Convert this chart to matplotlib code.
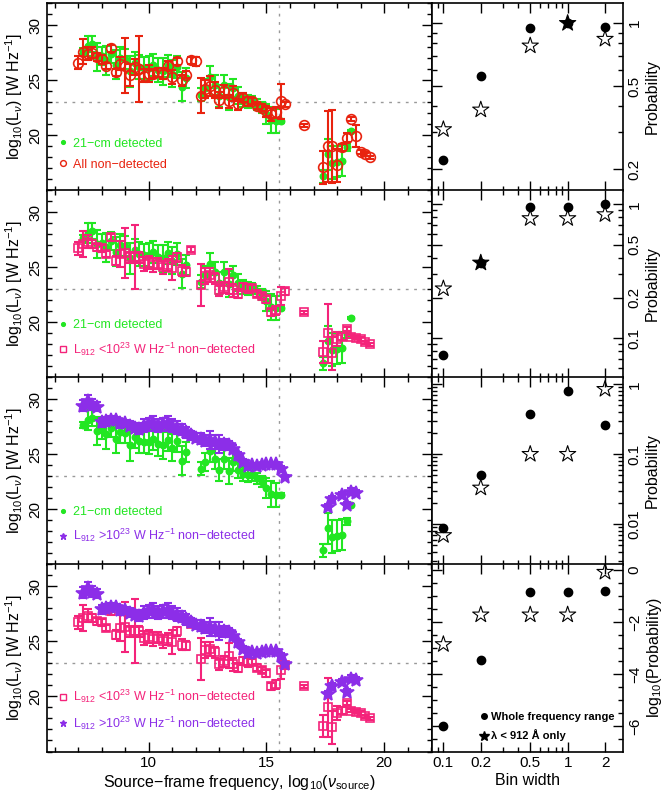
import numpy as np
import matplotlib
matplotlib.use('Agg')
import matplotlib.pyplot as plt
from matplotlib.ticker import MultipleLocator, FixedLocator, FixedFormatter, LogLocator, NullFormatter
from matplotlib.lines import Line2D

plt.rcParams['font.family'] = ['Liberation Sans', 'DejaVu Sans']
plt.rcParams['mathtext.fontset'] = 'custom'
plt.rcParams['mathtext.rm'] = 'Liberation Sans'
plt.rcParams['mathtext.it'] = 'Liberation Sans:italic'
plt.rcParams['mathtext.bf'] = 'Liberation Sans:bold'

# ---- 21-cm detected (green) ----
det_x = [7.2, 7.4, 7.6, 7.8, 8.0, 8.2, 8.4, 8.6, 8.8, 9.0, 9.2, 9.4, 9.6, 9.8, 10.0, 10.2,
         10.4, 10.6, 10.8, 11.0, 11.2, 11.4, 11.6,
         12.2, 12.4, 12.6, 12.8, 13.0, 13.2, 13.4, 13.6, 13.8, 14.0, 14.2, 14.4, 14.6, 14.8,
         15.0, 15.2, 15.4, 15.6,
         17.4, 17.6, 17.8, 18.0, 18.2, 18.4, 18.6]
det_y = [27.65, 28.1, 28.3, 27.1, 27.2, 26.8, 27.4, 26.4, 27.0, 26.9, 25.8, 26.6, 26.2, 26.1,
         26.1, 26.4, 25.9, 25.8, 26.3, 25.6, 26.2, 24.4, 25.2,
         23.7, 24.3, 25.3, 24.6, 23.6, 24.6, 23.5, 24.3, 23.6, 23.2, 23.1, 23.1, 22.8, 22.5,
         21.9, 21.4, 21.3, 21.3,
         16.3, 18.3, 17.5, 17.6, 17.7, 18.9, 20.4]
det_e = [0.3, 0.9, 0.7, 1.3, 0.8, 1.3, 0.8, 1.3, 1.0, 0.9, 1.4, 1.0, 1.1, 1.0, 1.1, 1.0,
         1.1, 1.2, 1.0, 1.2, 1.0, 1.3, 0.9,
         0.6, 0.8, 1.0, 0.9, 1.0, 0.9, 1.2, 0.8, 0.8, 0.6, 0.6, 0.5, 0.5, 0.5,
         0.9, 1.2, 1.1, 0.2,
         0.6, 1.4, 1.5, 1.4, 1.4, 0.3, 0.1]

# ---- all non-detected (red) ----
all_x = [7.0, 7.2, 7.4, 7.6, 7.8, 8.0, 8.2, 8.4, 8.6, 8.8, 9.0, 9.2, 9.4, 9.6, 9.8, 10.0,
         10.2, 10.4, 10.6, 10.8, 11.0, 11.2, 11.4, 11.6, 11.8, 12.0,
         12.2, 12.4, 12.6, 12.8, 13.0, 13.2, 13.4, 13.6, 13.8, 14.0, 14.2, 14.4, 14.6, 14.8,
         15.0, 15.2, 15.4, 15.6, 15.8,
         16.6,
         17.4, 17.6, 17.8, 18.0, 18.2, 18.4, 18.6, 18.8, 19.0, 19.2, 19.4]
all_y = [26.6, 27.6, 27.4, 27.5, 27.1, 26.9, 26.3, 27.9, 25.7, 26.5, 26.3, 25.5, 26.2, 26.0,
         25.4, 25.6, 25.6, 25.7, 25.6, 26.3, 25.3, 26.7, 25.0, 25.5, 26.8, 26.7,
         23.6, 24.2, 24.5, 24.1, 23.2, 24.0, 23.1, 23.8, 22.8, 23.4, 23.1, 23.1, 22.7, 22.5,
         22.2, 21.9, 22.1, 23.1, 22.8,
         20.9,
         17.1, 19.0, 19.0, 17.3, 18.9, 19.8, 21.5, 19.9, 18.5, 18.3, 18.0]
all_e = [0.6, 1.1, 0.6, 0.5, 0.4, 0.4, 0.3, 0.3, 0.3, 0.6, 2.5, 1.0, 0.7, 3.0, 0.6, 0.8,
         0.4, 0.4, 0.5, 0.4, 0.6, 0.3, 0.5, 0.3, 0.3, 0.4,
         1.6, 0.8, 0.9, 0.7, 0.7, 0.6, 0.6, 0.7, 0.5, 0.4, 0.4, 0.3, 0.3, 0.3,
         0.5, 0.6, 0.5, 1.6, 0.2,
         0.15,
         1.5, 3.2, 3.3, 1.5, 0.3, 0.4, 0.2, 1.0, 0.2, 0.15, 0.15]

# ---- L912 < 1e23 non-detected (pink) ----
low_x = [7.0, 7.2, 7.4, 7.6, 7.8, 8.0, 8.2, 8.4, 8.6, 8.8, 9.0, 9.2, 9.4, 9.6, 9.8, 10.0,
         10.2, 10.4, 10.6, 10.8, 11.0, 11.2, 11.4, 11.6, 11.8,
         12.2, 12.4, 12.6, 12.8, 13.0, 13.2, 13.4, 13.6, 13.8, 14.0, 14.2, 14.4, 14.6, 14.8,
         15.0, 15.2, 15.4, 15.6, 15.8,
         16.6,
         17.4, 17.6, 17.8, 18.0, 18.2, 18.4, 18.6, 18.8, 19.0, 19.2, 19.4]
low_y = [26.7, 27.1, 27.3, 27.1, 26.8, 26.7, 26.2, 27.7, 25.6, 26.2, 26.3, 25.9, 25.9, 25.9,
         25.3, 25.4, 25.2, 25.3, 25.0, 25.2, 24.9, 25.9, 24.7, 24.6, 26.6,
         23.4, 24.2, 24.3, 24.0, 22.9, 23.2, 23.7, 22.9, 22.6, 23.2, 23.1, 23.1, 22.6, 22.4,
         22.1, 20.9, 21.1, 22.4, 22.8,
         20.9,
         17.3, 19.0, 17.2, 18.5, 18.7, 19.4, 18.7, 18.6, 18.5, 18.2, 18.0]
low_e = [0.6, 1.2, 0.6, 0.4, 0.3, 0.3, 0.3, 0.3, 0.4, 1.2, 2.3, 0.5, 2.9, 0.5, 0.6, 0.6,
         0.6, 0.5, 0.6, 0.5, 1.1, 0.4, 0.5, 0.4, 0.2,
         1.9, 0.7, 0.6, 0.5, 0.5, 0.5, 1.1, 0.6, 0.4, 0.4, 0.4, 0.3, 0.3, 0.3,
         0.3, 0.3, 0.4, 0.8, 0.3,
         0.15,
         1.0, 2.7, 1.5, 0.6, 0.3, 0.2, 0.15, 0.15, 0.15, 0.15, 0.15]

# ---- L912 > 1e23 non-detected (purple) ----
high_x = [7.2, 7.4, 7.6, 7.8,
          8.0, 8.2, 8.4, 8.6, 8.8, 9.0, 9.2, 9.4, 9.6, 9.8, 10.0, 10.2, 10.4, 10.6, 10.8, 11.0,
          11.2, 11.4, 11.6, 11.8, 12.0, 12.2, 12.4, 12.6, 12.8, 13.0, 13.2, 13.4, 13.6, 13.8,
          14.0, 14.2, 14.4, 14.6, 14.8, 15.0, 15.2, 15.4, 15.6, 15.8,
          17.6, 17.8, 18.2, 18.4, 18.6, 18.8]
high_y = [29.4, 29.8, 29.5, 29.3,
          27.9, 28.0, 28.1, 28.1, 27.8, 27.8, 27.6, 27.4, 27.3, 27.6, 27.7, 27.8, 27.6, 27.7,
          27.8, 27.6, 27.4, 27.2, 27.0, 26.7, 26.5, 26.4, 26.2, 26.3, 26.1, 25.9, 25.9, 25.8,
          25.5, 24.9, 24.3, 23.9, 24.0, 23.9, 24.0, 24.1, 24.1, 24.1, 23.7, 22.9,
          20.2, 20.9, 21.3, 20.4, 21.6, 21.5]
high_e = [0.5, 0.6, 0.5, 0.4,
          0.4, 0.4, 0.4, 0.3, 0.4, 0.3, 0.4, 0.4, 0.5, 0.6, 0.6, 0.7, 0.6, 0.6, 0.7, 0.6,
          0.6, 0.5, 0.5, 0.4, 0.4, 0.5, 0.5, 0.8, 0.6, 0.8, 0.5, 0.4, 0.3, 0.3,
          0.3, 0.2, 0.2, 0.2, 0.2, 0.2, 0.2, 0.2, 0.2, 0.2,
          0.3, 0.3, 0.3, 0.3, 0.3, 0.3]

# ---- right panels: probability vs bin width ----
bin_width = [0.1, 0.2, 0.5, 1.0, 2.0]
prob1_all = [0.22, 0.56, 0.95, 1.0, 0.96]
prob1_uv = [0.31, 0.385, 0.78, 1.0, 0.84]
prob2_all = [0.075, 0.365, 0.955, 0.955, 1.0]
prob2_uv = [0.234, 0.365, 0.785, 0.785, 0.84]
prob3_all = [0.0088, 0.051, 0.37, 0.80, 0.26]
prob3_uv = [0.0069, 0.033, 0.1, 0.1, 0.85]
logp4_all = [-6.0, -3.46, -0.83, -0.83, -0.79]
logp4_uv = [-2.85, -1.71, -1.71, -1.71, -0.07]

GREEN = '#22e622'
RED = '#e8230f'
PINK = '#f4237a'
PURPLE = '#8c2ee8'
L912 = 15.52  # log10 frequency of 912 A

fig = plt.figure(figsize=(6.63, 7.95), dpi=100)
W, H = 663.0, 795.0
tops = [3, 190, 377, 564]
rh = 187.5


def style(ax):
    ax.tick_params(which='both', direction='in', top=True, bottom=True, left=True, right=True,
                   width=1.0, labelsize=11)
    ax.tick_params(which='major', length=7)
    ax.tick_params(which='minor', length=3.5)
    for s in ax.spines.values():
        s.set_linewidth(1.2)


def plot_series(ax, x, y, e, color, marker, ms, filled, z):
    ax.errorbar(x, y, yerr=e, fmt='none', ecolor=color, elinewidth=1.5, capsize=3,
                capthick=1.5, zorder=z)
    ax.plot(x, y, ls='none', marker=marker, ms=ms, mec=color, mew=1.2,
            mfc=color if filled else 'none', zorder=z + 0.1)


series = {
    'det': (det_x, det_y, det_e, GREEN, 'o', 4.5, True, '21\u2212cm detected'),
    'all': (all_x, all_y, all_e, RED, 'o', 7, False, 'All non\u2212detected'),
    'low': (low_x, low_y, low_e, PINK, 's', 6.3, False,
            'L$_{912}$ <10$^{23}$ W Hz$^{-1}$ non\u2212detected'),
    'high': (high_x, high_y, high_e, PURPLE, '*', 10, True,
             'L$_{912}$ >10$^{23}$ W Hz$^{-1}$ non\u2212detected'),
}
rows = [('det', 'all'), ('det', 'low'), ('det', 'high'), ('low', 'high')]

right_data = [(prob1_all, prob1_uv, (0.158, 1.25), [0.2, 0.5, 1], ['0.2', '0.5', '1']),
              (prob2_all, prob2_uv, (0.0506, 1.28), [0.1, 0.2, 0.5, 1], ['0.1', '0.2', '0.5', '1']),
              (prob3_all, prob3_uv, (0.00264, 1.27), [0.01, 0.1, 1], ['0.01', '0.1', '1']),
              (logp4_all, logp4_uv, (-6.97, 0.24), None, None)]

for i in range(4):
    bottom = 1 - (tops[i] + rh) / H
    ax = fig.add_axes([47 / W, bottom, 385 / W, rh / H])
    axr = fig.add_axes([432 / W, bottom, 191 / W, rh / H])

    # ---- left: luminosity vs frequency ----
    ax.axhline(23, color='0.6', ls=(0, (2, 4)), lw=1.0, zorder=1)
    ax.axvline(L912, color='0.6', ls=(0, (2, 4)), lw=1.0, zorder=1)
    handles, labels, colors = [], [], []
    for k, key in enumerate(rows[i]):
        x, y, e, c, m, ms, filled, lab = series[key]
        plot_series(ax, x, y, e, c, m, ms, filled, 3 + k)
        handles.append(Line2D([], [], ls='none', marker=m, ms=min(ms * 0.6, 5), mec=c, mew=1.0,
                              mfc=c if filled else 'none'))
        labels.append(lab)
        colors.append(c)
    ax.legend(handles, labels, loc='lower left', bbox_to_anchor=(0.02, 0.08), frameon=False,
              fontsize=9, handlelength=0.6, handletextpad=0.5, labelspacing=0.7,
              labelcolor=colors, borderaxespad=0)
    ax.set_xlim(5.68, 22.03)
    ax.set_ylim(15.0, 32.0)
    ax.xaxis.set_major_locator(MultipleLocator(5))
    ax.xaxis.set_minor_locator(MultipleLocator(1))
    ax.yaxis.set_major_locator(FixedLocator([20, 25, 30]))
    ax.yaxis.set_minor_locator(MultipleLocator(1))
    style(ax)
    ax.tick_params(axis='y', labelrotation=90)
    for t in ax.get_yticklabels():
        t.set_va('center')
    ax.set_ylabel('log$_{10}$(L$_{\\nu}$) [W Hz$^{-1}$]', fontsize=11.5, labelpad=2)
    if i < 3:
        ax.tick_params(labelbottom=False)
    else:
        ax.set_xlabel('Source\u2212frame frequency, log$_{10}$($\\nu_{\\rm source}$)',
                      fontsize=11.5, labelpad=2)

    # ---- right: probability vs bin width ----
    p_all, p_uv, ylim, yt, ytl = right_data[i]
    face = ['k' if a == u else 'none' for a, u in zip(p_all, p_uv)]
    axr.scatter(bin_width, p_uv, marker='*', s=150, facecolors=face, edgecolors='k',
                linewidths=0.8, zorder=3)
    axr.plot(bin_width, p_all, ls='none', marker='o', ms=6, color='k', zorder=4)
    axr.set_xscale('log')
    axr.set_xlim(0.081, 2.79)
    axr.xaxis.set_major_locator(FixedLocator([0.1, 0.2, 0.5, 1, 2]))
    axr.xaxis.set_major_formatter(FixedFormatter(['0.1', '0.2', '0.5', '1', '2']))
    axr.xaxis.set_minor_locator(LogLocator(base=10, subs=np.arange(1, 10)))
    axr.xaxis.set_minor_formatter(NullFormatter())
    if yt is not None:
        axr.set_yscale('log')
        axr.yaxis.set_major_locator(FixedLocator(yt))
        axr.yaxis.set_major_formatter(FixedFormatter(ytl))
        axr.yaxis.set_minor_locator(LogLocator(base=10, subs=np.arange(1, 10)))
        axr.yaxis.set_minor_formatter(NullFormatter())
        ylab = 'Probability'
    else:
        axr.yaxis.set_major_locator(MultipleLocator(2))
        axr.yaxis.set_minor_locator(MultipleLocator(0.5))
        ylab = 'log$_{10}$(Probability)'
    axr.set_ylim(*ylim)
    style(axr)
    axr.tick_params(axis='y', labelleft=False, labelright=True, labelrotation=90)
    for t in axr.get_yticklabels():
        t.set_va('center')
    axr.yaxis.set_label_position('right')
    axr.set_ylabel(ylab, fontsize=11.5, labelpad=2)
    if i < 3:
        axr.tick_params(labelbottom=False)
    else:
        axr.set_xlabel('Bin width', fontsize=11.5, labelpad=2)
        lh = [Line2D([], [], ls='none', marker='o', ms=4, color='k'),
              Line2D([], [], ls='none', marker='*', ms=7, color='k')]
        axr.legend(lh, ['Whole frequency range', '\u03bb < 912 \u00c5 only'],
                   loc='lower right', bbox_to_anchor=(0.98, 0.03), frameon=False,
                   prop={'size': 8, 'weight': 'bold'}, handlelength=0.5,
                   handletextpad=0.4, labelspacing=0.7, borderaxespad=0)

fig.savefig('out.png', dpi=100)
